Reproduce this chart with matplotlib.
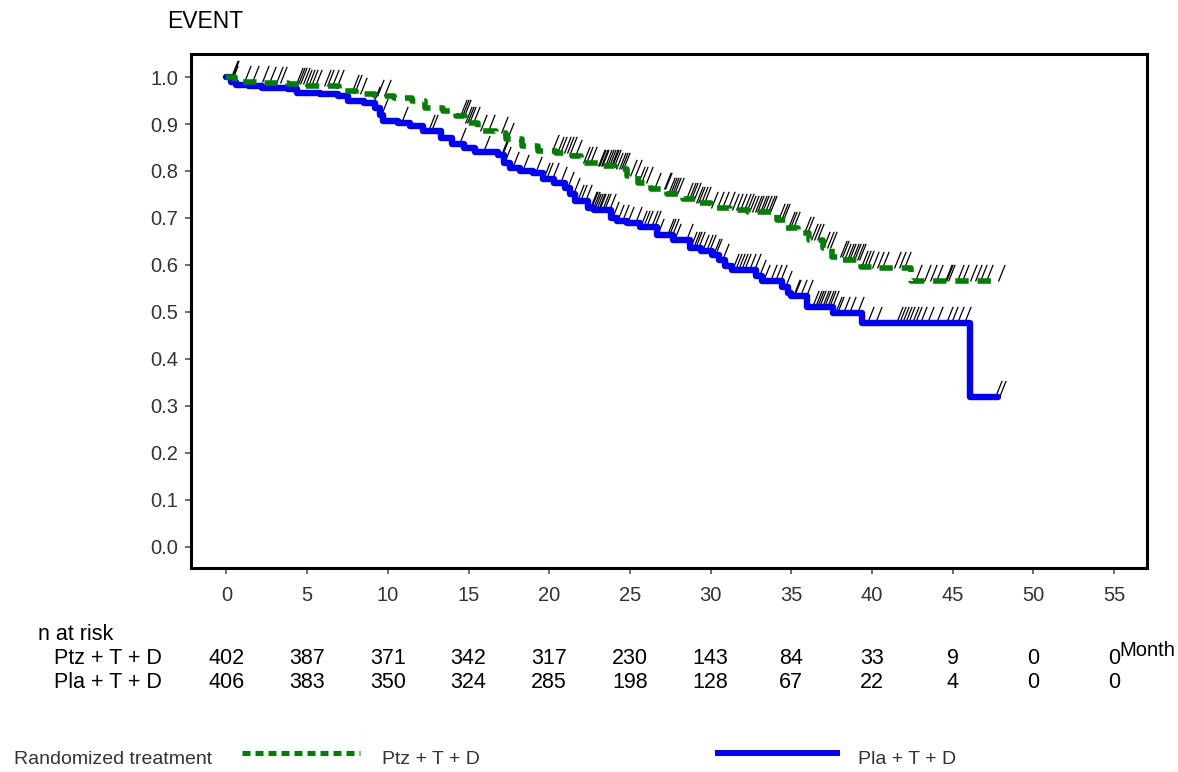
import numpy as np
import matplotlib
matplotlib.use("Agg")
import matplotlib.pyplot as plt
from matplotlib.path import Path

plt.rcParams['font.family'] = ['Liberation Sans', 'DejaVu Sans']

W, H = 1178, 772

# Kaplan-Meier steps (time in months, survival after step)
ptz_t = [0, 0.5, 2.3, 3.8, 4.8, 7.0, 8.0, 9.2, 10.4, 11.5, 12.3, 13.4, 14.2, 14.8,
         15.6, 16.7, 17.3, 18.3, 19.3, 20.4, 21.4, 22.0, 23.0, 24.1, 24.8, 25.5,
         26.3, 27.3, 28.3, 29.1, 30.0, 31.2, 32.3, 34.1, 34.7, 35.4, 36.1, 37.0,
         37.5, 38.2, 39.3, 40.0, 42.4, 47.8]
ptz_s = [1.0, 0.990, 0.987, 0.985, 0.981, 0.970, 0.964, 0.960, 0.955, 0.949, 0.934,
         0.928, 0.917, 0.902, 0.885, 0.881, 0.868, 0.853, 0.843, 0.839, 0.832,
         0.817, 0.811, 0.805, 0.790, 0.775, 0.762, 0.752, 0.741, 0.732, 0.722,
         0.717, 0.713, 0.696, 0.679, 0.668, 0.653, 0.636, 0.617, 0.611, 0.596,
         0.594, 0.566, 0.566]

pla_t = [0, 0.3, 0.6, 1.4, 2.2, 3.8, 4.4, 5.8, 6.9, 7.5, 8.5, 9.2, 9.5, 9.7, 10.6,
         11.4, 12.2, 13.3, 14.0, 14.7, 15.4, 16.8, 17.2, 17.6, 18.2, 19.0, 19.6,
         20.3, 21.0, 21.3, 21.6, 22.4, 22.8, 23.8, 24.2, 24.8, 25.6, 26.7, 27.7,
         28.7, 29.4, 30.1, 30.5, 30.9, 31.3, 32.8, 33.2, 34.4, 34.8, 35.0, 36.0,
         37.6, 39.4, 46.1, 47.8]
pla_s = [1.0, 0.990, 0.984, 0.981, 0.977, 0.974, 0.966, 0.963, 0.959, 0.950, 0.945,
         0.935, 0.920, 0.907, 0.902, 0.895, 0.885, 0.870, 0.858, 0.849, 0.840,
         0.833, 0.818, 0.807, 0.801, 0.796, 0.784, 0.774, 0.764, 0.750, 0.737,
         0.722, 0.716, 0.700, 0.694, 0.690, 0.680, 0.664, 0.653, 0.637, 0.630,
         0.621, 0.610, 0.598, 0.589, 0.576, 0.565, 0.553, 0.540, 0.533, 0.511,
         0.498, 0.476, 0.318, 0.318]

# censoring times
ptz_cens = [0.3, 0.35, 1.07, 1.59, 2.21, 2.62, 3.04, 3.31, 4.28, 4.42, 4.58, 4.75,
            4.89, 5.04, 5.24, 5.51, 6.03, 6.24, 6.55, 6.86, 7.78, 7.99, 8.30, 9.33,
            9.74, 14.5, 14.6, 14.7, 14.8, 14.9, 15.0, 15.3, 15.7, 16.2, 17.0, 17.4,
            20.2, 20.5, 20.7, 20.9, 21.1, 21.3, 21.6, 22.1, 22.3, 22.5, 23.0, 23.1,
            23.2, 23.3, 23.45, 23.6, 23.7, 23.8, 23.9, 24.0, 24.15, 24.3, 24.45,
            24.6, 25.0, 25.3, 25.5, 25.7, 26.0, 26.5, 27.1, 27.2, 27.35, 27.5, 27.6,
            27.75, 27.9, 28.5, 28.65, 28.8, 28.95, 29.1, 29.25, 29.4, 29.6, 30.0,
            30.4, 30.7, 31.1, 31.3, 31.6, 31.8, 32.1, 32.25, 32.4, 32.6, 32.75,
            32.9, 33.05, 33.2, 33.4, 33.55, 33.7, 34.2, 34.35, 34.5, 34.8, 34.95,
            35.1, 35.8, 36.0, 36.2, 36.4, 36.6, 37.0, 37.2, 37.4, 38.0, 38.15, 38.3,
            38.45, 38.6, 38.75, 38.9, 39.05, 39.2, 39.35, 39.5, 39.7, 40.0, 40.3,
            40.6, 41.4, 41.7, 42.0, 42.7, 43.2, 43.6, 44.0, 44.5, 44.6, 44.7, 45.3,
            45.6, 46.1, 46.4, 46.7, 47.1, 47.8]
pla_cens = [0.3, 9.1, 9.6, 10.8, 12.5, 12.7, 14.4, 15.9, 17.0, 17.1, 17.2, 17.7,
            18.3, 19.1, 19.6, 19.8, 20.2, 20.7, 21.1, 21.5, 21.7, 21.9, 22.2, 22.5,
            22.6, 22.7, 22.8, 22.9, 23.0, 23.1, 23.25, 23.4, 23.7, 23.9, 24.2, 24.5,
            24.8, 25.3, 25.6, 25.8, 26.0, 26.3, 26.5, 26.7, 27.3, 27.45, 27.6,
            27.75, 28.5, 28.75, 28.9, 29.05, 29.2, 29.45, 29.7, 29.9, 30.15, 30.3,
            30.7, 31.35, 31.5, 31.7, 31.9, 32.1, 32.4, 32.7, 33.0, 33.25, 33.7,
            34.0, 34.3, 34.6, 35.1, 35.2, 35.55, 35.9, 36.3, 36.45, 36.6, 36.75,
            36.9, 37.05, 37.2, 37.35, 37.5, 37.7, 37.85, 38.2, 38.6, 39.1, 39.7,
            40.2, 41.5, 41.65, 41.85, 42.05, 42.26, 42.47, 42.68, 42.98, 43.4,
            44.0, 44.6, 44.9, 45.3, 45.7, 47.6, 47.9]

risk_times = [0, 5, 10, 15, 20, 25, 30, 35, 40, 45, 50, 55]
ptz_risk = [402, 387, 371, 342, 317, 230, 143, 84, 33, 9, 0, 0]
pla_risk = [406, 383, 350, 324, 285, 198, 128, 67, 22, 4, 0, 0]

groups = ["Ptz + T + D", "Pla + T + D"]
colors = ["#008000", "#0000ff"]


def surv_at(times, surv, c):
    idx = np.searchsorted(times, c, side="right") - 1
    return np.asarray(surv)[idx]


fig = plt.figure(figsize=(W / 100, H / 100), dpi=100)
ax = fig.add_axes([191 / W, 1 - 568 / H, (1147 - 191) / W, (568 - 54) / H])

ax.step(pla_t, pla_s, where="post", color=colors[1], lw=4.6, zorder=3,
        solid_joinstyle="round", solid_capstyle="round")
ax.step(ptz_t, ptz_s, where="post", color=colors[0], lw=4.0, zorder=4,
        linestyle=(0, (2.4, 1.6)))

# censor ticks: short slanted strokes sitting on the curve
tick = Path([(0, 0), (0.4, 1.0)], [Path.MOVETO, Path.LINETO])
for t, s, c in [(ptz_t, ptz_s, ptz_cens), (pla_t, pla_s, pla_cens)]:
    c = np.array(c)
    ax.plot(c, surv_at(t, s, c), linestyle="none", marker=tick, markersize=24,
            markeredgewidth=0.9, color="black", zorder=2)

ax.set_xlim(-2.2, 57.05)
ax.set_ylim(-0.045, 1.049)
ax.set_xticks(risk_times)
ax.set_yticks(np.arange(0, 1.01, 0.1))
ax.set_yticklabels([f"{v:.1f}" for v in np.arange(0, 1.01, 0.1)])
for sp in ax.spines.values():
    sp.set_linewidth(2.2)
ax.tick_params(axis="both", length=4, width=1.2, color="#555555",
               labelcolor="#333333", labelsize=14.5)
ax.tick_params(axis="y", pad=5)
ax.tick_params(axis="x", pad=9)

fig.text(167 / W, 1 - 21 / H, "EVENT", fontsize=16.5, va="center", ha="left")
fig.text(1119 / W, 1 - 650 / H, "Month", fontsize=14.5, va="center", ha="left")

# number at risk table
fig.text(38 / W, 1 - 634 / H, "n at risk", fontsize=15.5, va="center")
trans = matplotlib.transforms.blended_transform_factory(ax.transData, fig.transFigure)
for row, (name, risk) in enumerate(zip(groups, [ptz_risk, pla_risk])):
    y = 1 - (658 + 25 * row) / H
    fig.text(54 / W, y, name, fontsize=15.5, va="center")
    for tm, n in zip(risk_times, risk):
        ax.text(tm, y, str(n), transform=trans, fontsize=15.5, ha="center",
                va="center", clip_on=False)

# legend row
ly = 1 - 759 / H
fig.text(14 / W, ly, "Randomized treatment", fontsize=14, va="center", color="#333333")
fig.add_artist(plt.Line2D([242 / W, 360 / W], [1 - 753 / H] * 2, color=colors[0],
                          lw=3.6, linestyle=(0, (1.6, 1.0))))
fig.text(382 / W, ly, groups[0], fontsize=14, va="center", color="#333333")
fig.add_artist(plt.Line2D([718 / W, 837 / W], [1 - 753 / H] * 2, color=colors[1],
                          lw=4.3))
fig.text(858 / W, ly, groups[1], fontsize=14, va="center", color="#333333")

fig.savefig("out.png", dpi=100)
